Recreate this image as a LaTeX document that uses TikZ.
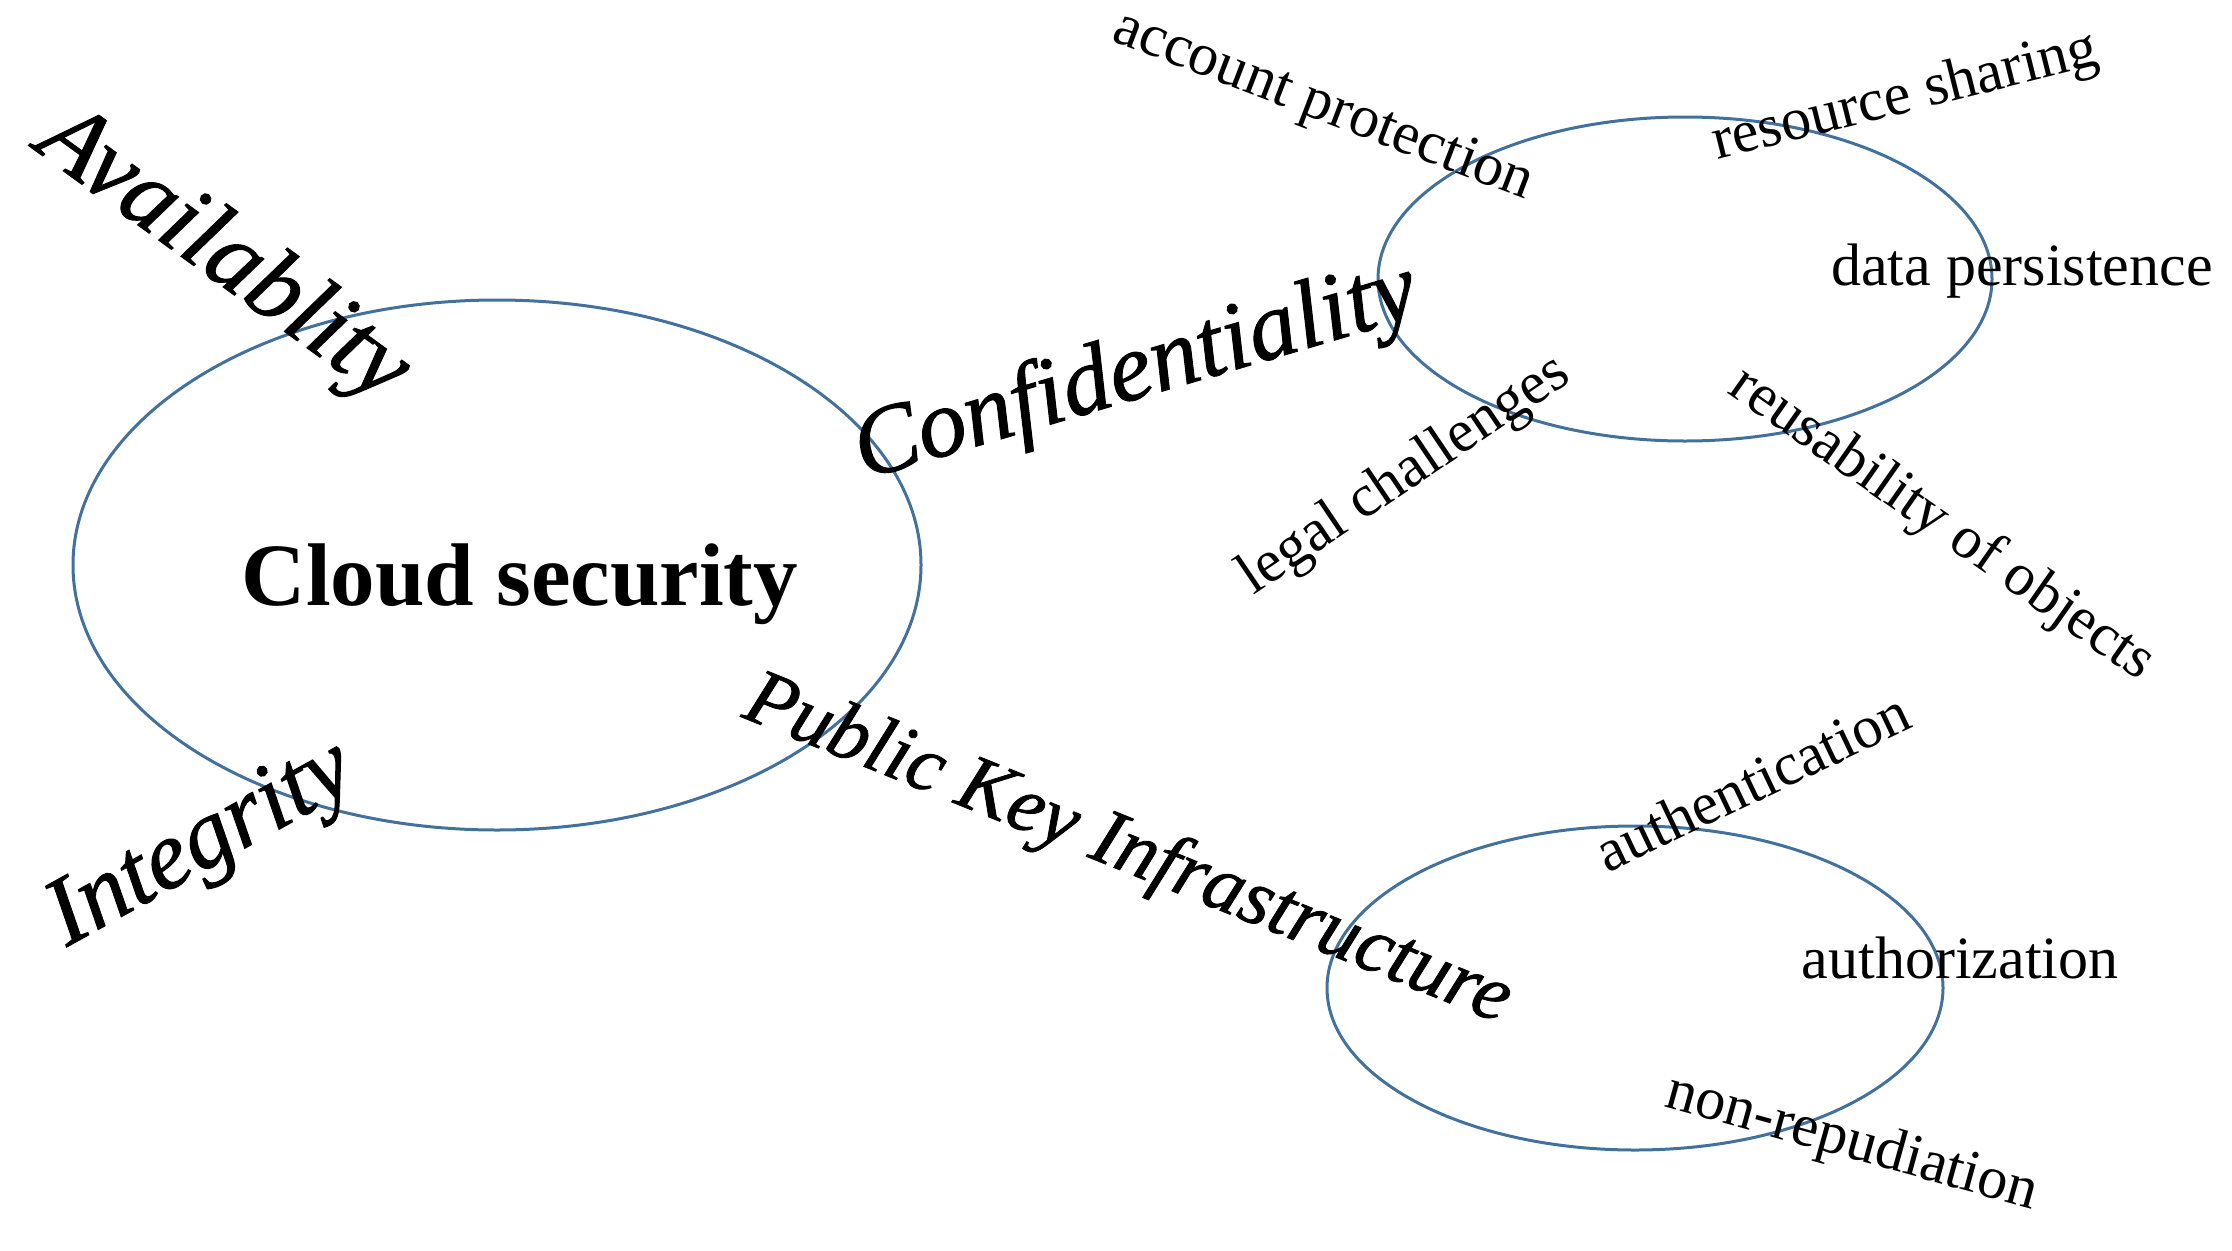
\documentclass[tikz,border=0pt]{standalone}
\usepackage{fontspec}
\setmainfont{Liberation Serif}
\newfontfamily\artfont{Liberation Serif}[FakeBold=1]
\usetikzlibrary{shapes.geometric}
\definecolor{ringblue}{HTML}{41719C}
\begin{document}
\begin{tikzpicture}[x=1pt,y=-1pt,
  ring/.style={draw=ringblue, line width=3pt, ellipse, inner sep=0pt},
  lab/.style={inner sep=0pt, anchor=base, font=\fontsize{60}{72}\selectfont},
  biglab/.style={inner sep=0pt, anchor=base, font=\artfont\itshape\fontsize{97}{110}\selectfont}]
\useasboundingbox (0,0) rectangle (2232,1250);
% ellipses
\node[ring, minimum width=848pt, minimum height=530pt] (cloud) at (497,565) {};
\node[ring, minimum width=614pt, minimum height=324pt] (conf) at (1685,279) {};
\node[ring, minimum width=616pt, minimum height=324pt] (pki) at (1635,988) {};
% main labels
\node[inner sep=0pt, anchor=base, font=\bfseries\fontsize{89}{100}\selectfont] (cs) at (520,605) {Cloud security};
\node[biglab, rotate=-36, font=\artfont\itshape\fontsize{100}{110}\selectfont] (avail) at (208,276) {Availablity};
\node[biglab, rotate=29] (integ) at (213,866) {Integrity};
\node[biglab, rotate=16.5] (confl) at (1143,397) {Confidentiality};
\node[biglab, rotate=-22, font=\artfont\itshape\fontsize{80}{96}\selectfont] (pkil) at (1120,870) {Public Key Infrastructure};
% sub labels
\node[lab, rotate=-21] (acc) at (1318,120) {account protection};
\node[lab, rotate=14] (res) at (1909,112) {resource sharing};
\node[lab] (dp) at (2022,285) {data persistence};
\node[lab, rotate=34] (legal) at (1413,488) {legal challenges};
\node[lab, rotate=-35] (reuse) at (1933,537) {reusability of objects};
\node[lab, rotate=25.5] (authn) at (1761,800) {authentication};
\node[lab] (authz) at (1960,978) {authorization};
\node[lab, rotate=-15.5] (nonrep) at (1848,1158) {non-repudiation};
\end{tikzpicture}
\end{document}
